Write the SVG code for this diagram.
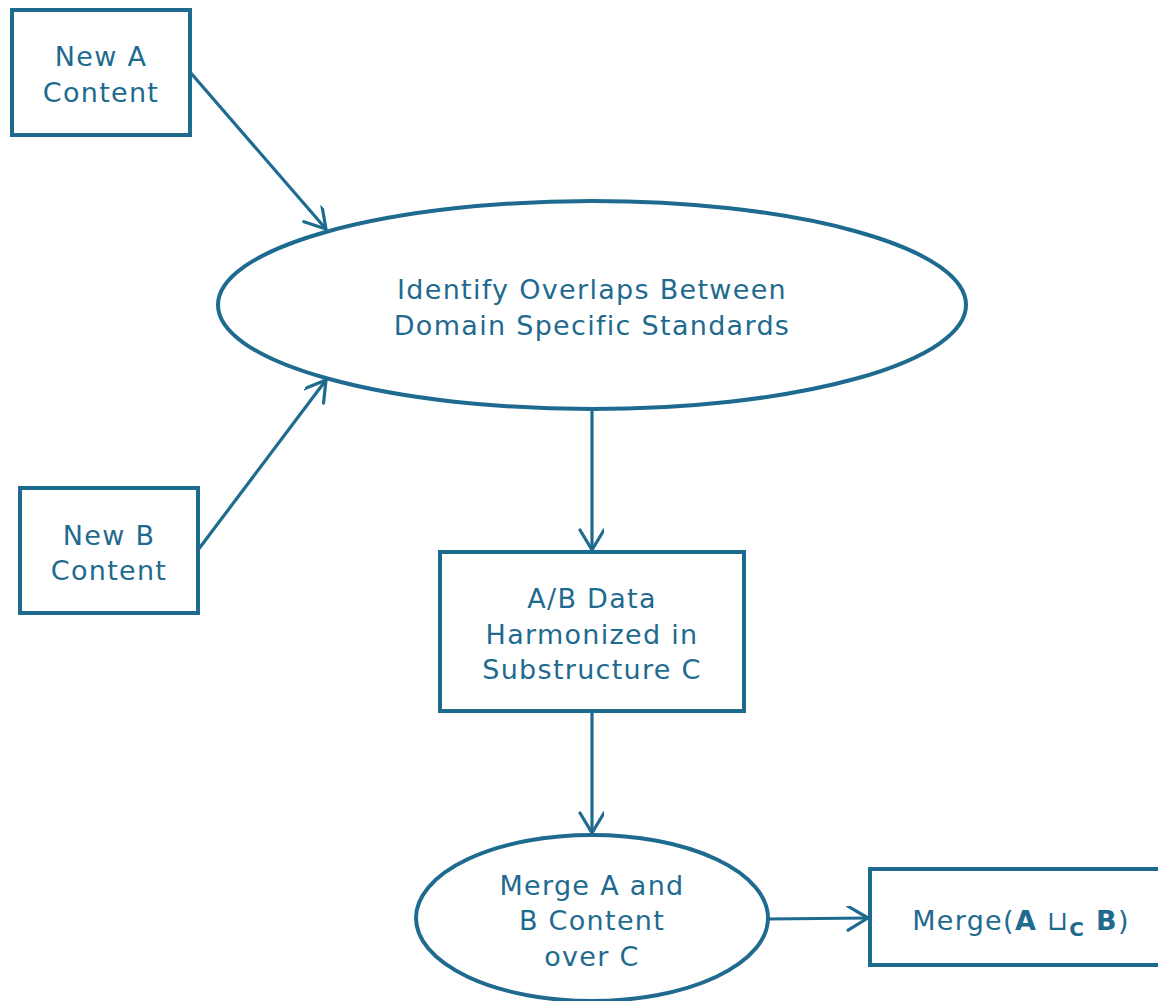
<svg xmlns="http://www.w3.org/2000/svg" width="1158" height="1001" viewBox="0 0 1158 1001">
  <style>
    .shape { fill: #ffffff; stroke: #1f6a8f; stroke-width: 4; }
    .edge { fill: none; stroke: #1f6a8f; stroke-width: 3.2; }
    .label { font-family: "DejaVu Sans", Verdana, sans-serif; font-size: 27px; letter-spacing: 1.3px; fill: #1f6a8f; text-anchor: middle; }
    .bold { font-weight: bold; }
  </style>
  <defs>
    <marker id="open-arrow" markerUnits="userSpaceOnUse" markerWidth="30" markerHeight="30" refX="24" refY="12" orient="auto">
      <path d="M4,0 L24,12 L4,24" fill="none" stroke="#1f6a8f" stroke-width="3.2" stroke-linecap="round" stroke-linejoin="round"/>
    </marker>
  </defs>
  <rect width="1158" height="1001" fill="#ffffff"/>

  <g id="connectors">
    <line class="edge" x1="190" y1="72" x2="326" y2="229" marker-end="url(#open-arrow)"/>
    <line class="edge" x1="198" y1="550" x2="326" y2="380" marker-end="url(#open-arrow)"/>
    <line class="edge" x1="592" y1="409" x2="592" y2="550" marker-end="url(#open-arrow)"/>
    <line class="edge" x1="592" y1="711" x2="592" y2="833" marker-end="url(#open-arrow)"/>
    <line class="edge" x1="768" y1="919" x2="868" y2="918" marker-end="url(#open-arrow)"/>
  </g>

  <g id="new-a">
    <rect class="shape" x="12" y="10" width="178" height="125"/>
    <text class="label" x="101" y="66">New A</text>
    <text class="label" x="101" y="102">Content</text>
  </g>

  <g id="new-b">
    <rect class="shape" x="20" y="488" width="178" height="125"/>
    <text class="label" x="109" y="545">New B</text>
    <text class="label" x="109" y="580">Content</text>
  </g>

  <g id="identify-overlaps">
    <ellipse class="shape" cx="592" cy="305" rx="374" ry="104"/>
    <text class="label" x="592" y="299">Identify Overlaps Between</text>
    <text class="label" x="592" y="335">Domain Specific Standards</text>
  </g>

  <g id="harmonized">
    <rect class="shape" x="440" y="552" width="304" height="159"/>
    <text class="label" x="592" y="608">A/B Data</text>
    <text class="label" x="592" y="644">Harmonized in</text>
    <text class="label" x="592" y="679">Substructure C</text>
  </g>

  <g id="merge-over-c">
    <ellipse class="shape" cx="592" cy="918" rx="176" ry="83"/>
    <text class="label" x="592" y="895">Merge A and</text>
    <text class="label" x="592" y="930">B Content</text>
    <text class="label" x="592" y="966">over C</text>
  </g>

  <g id="merge-result">
    <rect class="shape" x="870" y="869" width="292" height="96"/>
    <text class="label" x="1021" y="930">Merge(<tspan class="bold">A</tspan> ⊔<tspan class="bold" font-size="20" dy="6">C</tspan><tspan class="bold" dy="-6"> B</tspan>)</text>
  </g>
</svg>
